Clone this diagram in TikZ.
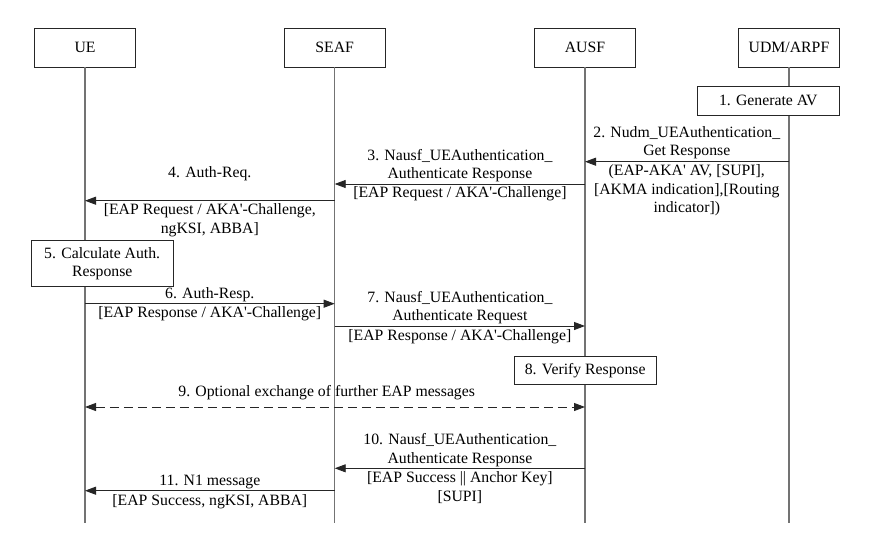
\documentclass[tikz,border=0pt]{standalone}
\usepackage{fontspec}
\setmainfont{Liberation Serif}
\usetikzlibrary{arrows.meta}
\newcommand\fs{\rmfamily\fontsize{15.75}{18.5}\selectfont}
\newcommand\qq{\textquotesingle}
\tikzset{
 actor/.style={draw=black!85, line width=0.8pt, fill=white, minimum width=101pt, minimum height=38.7pt, font=\fs, inner sep=0pt},
 procbox/.style={draw=black!85, line width=0.8pt, fill=white, font=\fs, align=center, inner sep=0pt, minimum width=142pt},
 life/.style={draw=black!55, line width=1.3pt},
 msg/.style={draw=black!85, line width=0.9pt, -{Triangle[length=11pt,width=8pt]}},
 dmsg/.style={draw=black!85, line width=0.9pt, dash pattern=on 9pt off 5pt, {Triangle[length=11pt,width=8pt]}-{Triangle[length=11pt,width=8pt]}},
 lbl/.style={font=\fs, align=center, inner sep=0pt},
}
\begin{document}
\begin{tikzpicture}[x=1pt,y=-1pt]
\useasboundingbox[fill=white] (0,0) rectangle (883,538);
% actors
\node[actor] (UE) at (85,47.7) {UE};
\node[actor] (SEAF) at (334.7,47.7) {SEAF};
\node[actor] (AUSF) at (585,47.7) {AUSF};
\node[actor] (UDM) at (789,47.7) {UDM/ARPF};
\coordinate (ueEnd) at (85,522.7);
\coordinate (seafEnd) at (334.7,522.7);
\coordinate (ausfEnd) at (585,522.7);
\coordinate (udmEnd) at (789,522.7);
\draw[life] (UE.south) -- (ueEnd);
\draw[life] (SEAF.south) -- (seafEnd);
\draw[life] (AUSF.south) -- (ausfEnd);
\draw[life] (UDM.south) -- (udmEnd);
% boxes
\node[procbox, minimum height=29pt] (b1) at (768.3,100.5) {1. Generate AV};
\node[procbox, minimum height=45.3pt] (b5) at (102.2,263.5) {5. Calculate Auth.\\Response};
\node[procbox, minimum height=28.7pt] (b8) at (585.2,370.3) {8. Verify Response};
% message endpoints
\coordinate (m2a) at (789,161.7); \coordinate (m2b) at (585,161.7);
\coordinate (m3a) at (585,184); \coordinate (m3b) at (334.7,184);
\coordinate (m4a) at (334.7,200.7); \coordinate (m4b) at (85,200.7);
\coordinate (m6a) at (85,303.7); \coordinate (m6b) at (334.7,303.7);
\coordinate (m7a) at (334.7,326); \coordinate (m7b) at (585,326);
\coordinate (m9a) at (85,407); \coordinate (m9b) at (585,407);
\coordinate (m10a) at (585,468.3); \coordinate (m10b) at (334.7,468.3);
\coordinate (m11a) at (334.7,490.7); \coordinate (m11b) at (85,490.7);
\draw[msg] (m2a) -- (m2b);
\draw[msg] (m3a) -- (m3b);
\draw[msg] (m4a) -- (m4b);
\draw[msg] (m6a) -- (m6b);
\draw[msg] (m7a) -- (m7b);
\draw[dmsg] (m9a) -- (m9b);
\draw[msg] (m10a) -- (m10b);
\draw[msg] (m11a) -- (m11b);
% labels
\node[lbl] (l2a) at (686.8,142.8) {2. Nudm\_UEAuthentication\_\\Get Response};
\node[lbl] (l2b) at (686.8,190.3) {(EAP-AKA\qq{} AV, [SUPI],\\[0pt][AKMA indication],[Routing\\indicator])};
\node[lbl] (l3a) at (459.9,165.8) {3. Nausf\_UEAuthentication\_\\Authenticate Response};
\node[lbl] (l3b) at (459.9,193.3) {[EAP Request / AKA\qq-Challenge]};
\node[lbl] (l4a) at (209.8,173.3) {4. Auth-Req.};
\node[lbl] (l4b) at (209.8,220.3) {[EAP Request / AKA\qq-Challenge,\\ngKSI, ABBA]};
\node[lbl] (l6a) at (209.8,295) {6. Auth-Resp.};
\node[lbl] (l6b) at (209.8,314) {[EAP Response / AKA\qq-Challenge]};
\node[lbl] (l7a) at (459.9,307.5) {7. Nausf\_UEAuthentication\_\\Authenticate Request};
\node[lbl] (l7b) at (459.9,336.7) {[EAP Response / AKA\qq-Challenge]};
\node[lbl] (l9) at (326.7,392.7) {9. Optional exchange of further EAP messages};
\node[lbl] (l10a) at (459.9,450) {10. Nausf\_UEAuthentication\_\\Authenticate Response};
\node[lbl] (l10b) at (459.9,487.8) {[EAP Success || Anchor Key]\\[0pt][SUPI]};
\node[lbl] (l11a) at (209.8,482.3) {11. N1 message};
\node[lbl] (l11b) at (209.8,502) {[EAP Success, ngKSI, ABBA]};
\end{tikzpicture}
\end{document}
